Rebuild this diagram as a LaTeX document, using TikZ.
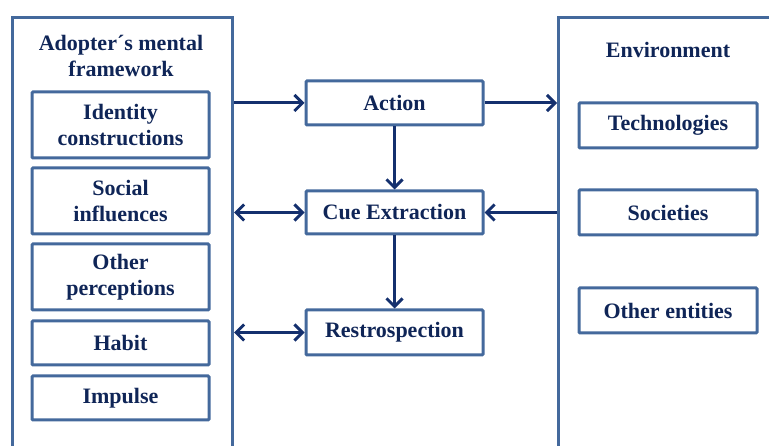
\documentclass[tikz,border=0pt]{standalone}
\usepackage{fontspec}
\setmainfont{Liberation Serif}
\usetikzlibrary{arrows.meta}
\definecolor{bordc}{HTML}{44699C}
\definecolor{txtc}{HTML}{0F2557}
\definecolor{arrc}{HTML}{14306E}
\tikzset{
  box/.style={draw=bordc, line width=3pt, rounded corners=1pt, fill=white, align=center,
    text=txtc, font=\fontsize{22}{25.5}\selectfont\bfseries, inner sep=0pt},
  outer/.style={draw=bordc, line width=3pt, inner sep=0pt, anchor=north west},
  ttl/.style={text=txtc, font=\fontsize{22}{25.5}\selectfont\bfseries, align=center},
  conn/.style={draw=arrc, line width=3pt, -{Straight Barb[length=8pt,width=16pt,line width=3pt]}},
  conn2/.style={draw=arrc, line width=3pt, {Straight Barb[length=8pt,width=16pt,line width=3pt]}-{Straight Barb[length=8pt,width=16pt,line width=3pt]}}
}
\begin{document}
\begin{tikzpicture}[x=1pt,y=-1pt]
\useasboundingbox (0,0) rectangle (769,446);
\clip (0,0) rectangle (769,446);
% outer frames
\node[outer, minimum width=220pt, minimum height=480pt] (left) at (11,16) {};
\node[outer, minimum width=240pt, minimum height=480pt] (right) at (557,16) {};
\node[ttl] (lt) at (121,56) {Adopter\char"00B4 s mental\\framework};
\node[ttl] (rt) at (668,50) {Environment};
% left inner boxes
\node[box, minimum width=177pt, minimum height=66pt] (id) at (120.5,125) {Identity\\constructions};
\node[box, minimum width=177pt, minimum height=66pt] (soc) at (120.5,201) {Social\\influences};
\node[box, minimum width=177pt, minimum height=66pt] (op) at (120.5,277) {Other\\perceptions};
\node[box, minimum width=177pt, minimum height=44pt] (hab) at (120.5,343) {Habit};
\node[box, minimum width=177pt, minimum height=44pt] (imp) at (120.5,398) {Impulse};
% middle boxes
\node[box, minimum width=177pt, minimum height=44pt] (act) at (394.5,103) {Action};
\node[box, minimum width=177pt, minimum height=43pt] (cue) at (394.5,212.5) {Cue Extraction};
\node[box, minimum width=177pt, minimum height=45pt] (res) at (394.5,332.5) {Restrospection};
% right inner boxes
\node[box, minimum width=178pt, minimum height=45pt] (tech) at (668,125.5) {Technologies};
\node[box, minimum width=178pt, minimum height=45pt] (socs) at (668,212.5) {Societies};
\node[box, minimum width=178pt, minimum height=45pt] (oth) at (668,310.5) {Other entities};
% connectors
\draw[conn] (left.east |- act.west) -- (act.west);
\draw[conn] (act.east) -- (right.west |- act.east);
\draw[conn] (act.south) -- (cue.north);
\draw[conn] (cue.south) -- (res.north);
\draw[conn] (right.west |- cue.east) -- (cue.east);
\draw[conn2] (left.east |- cue.west) -- (cue.west);
\draw[conn2] (left.east |- res.west) -- (res.west);
\end{tikzpicture}
\end{document}
